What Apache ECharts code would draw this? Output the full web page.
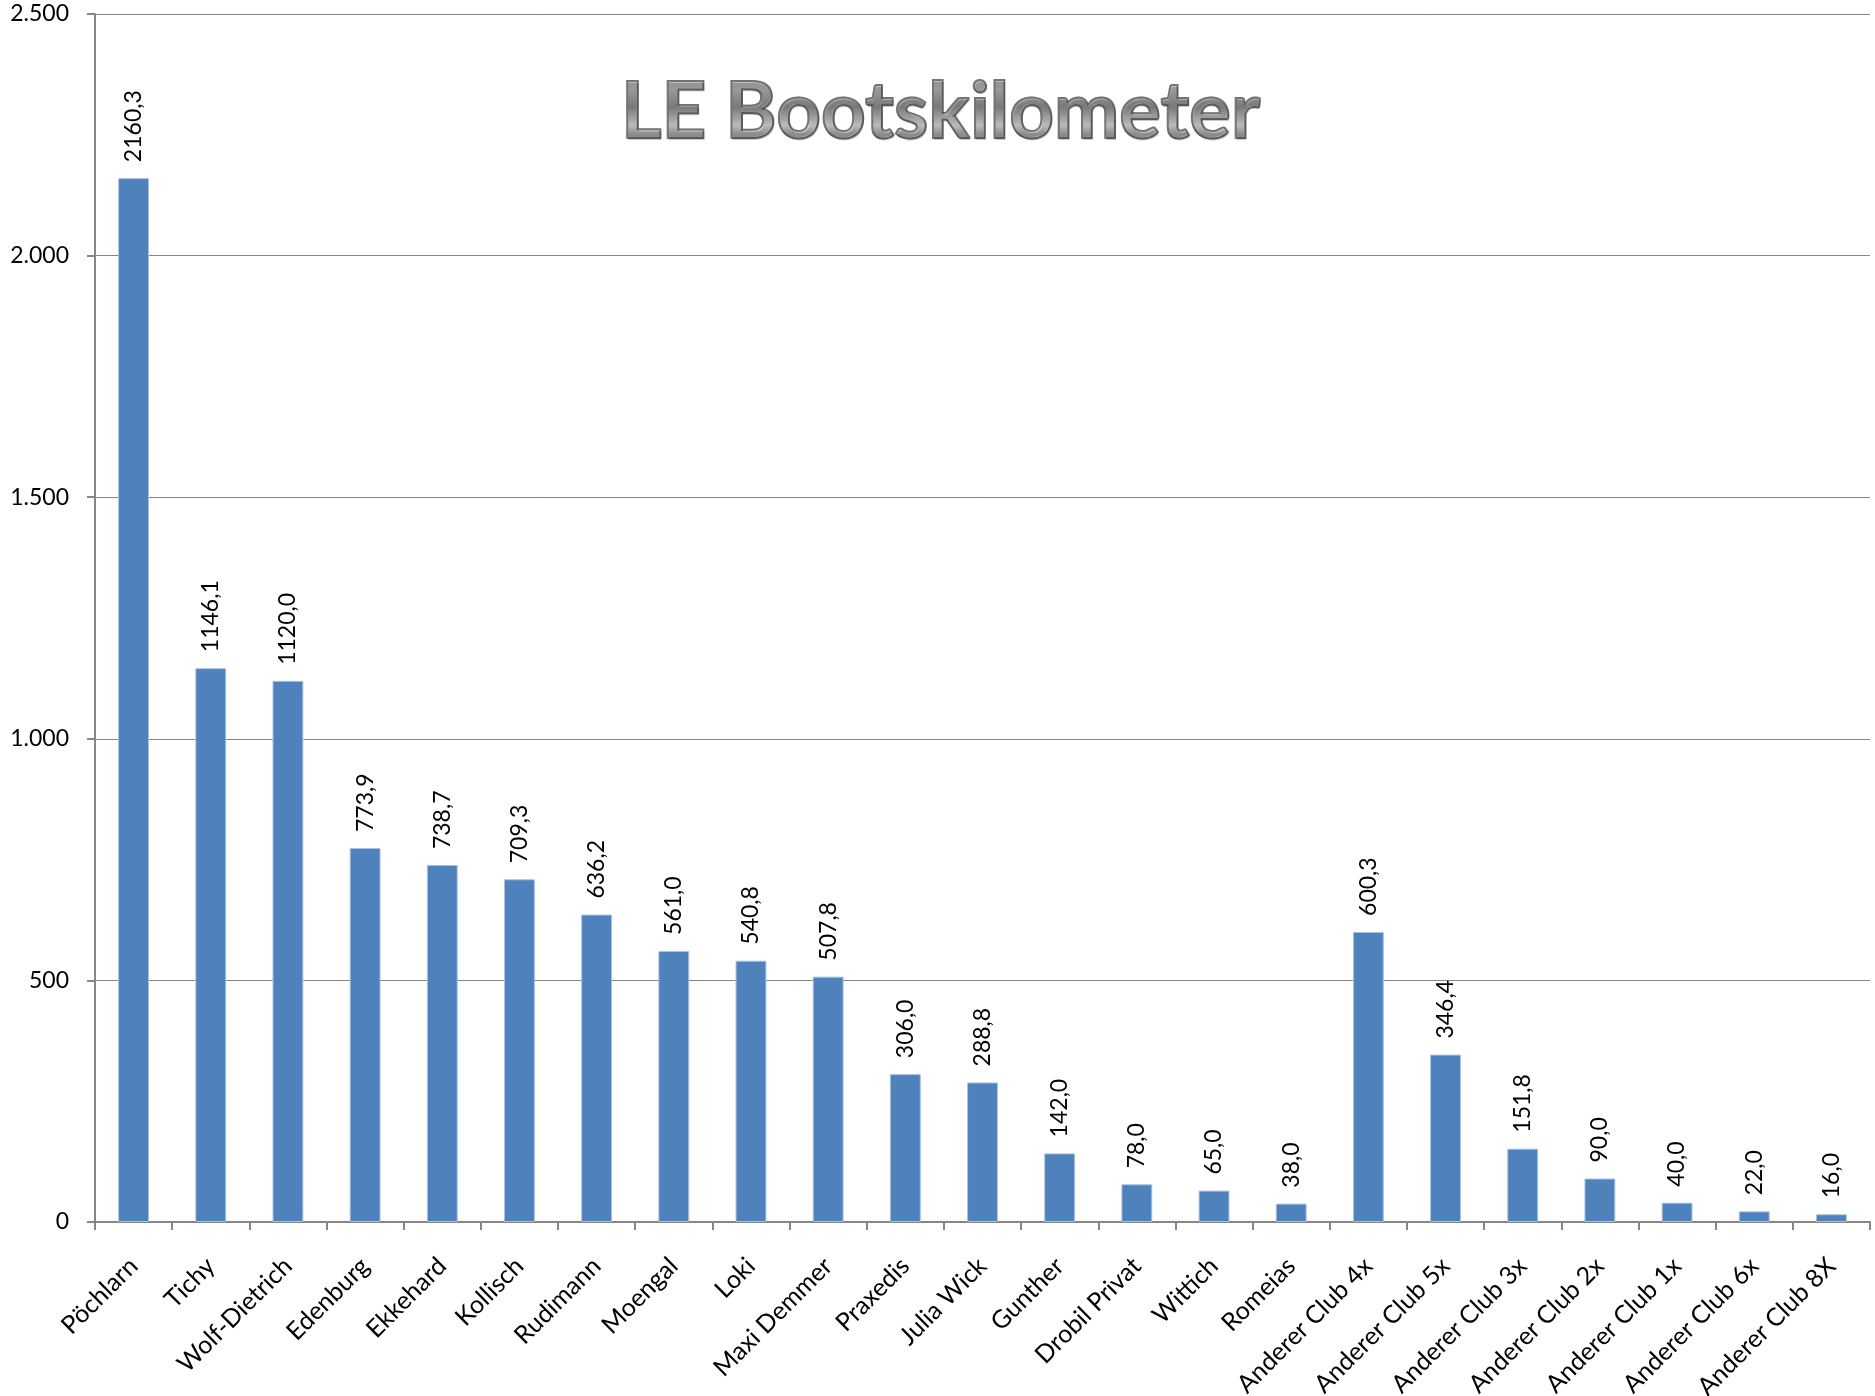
<!DOCTYPE html>
<html>
<head>
<meta charset="utf-8">
<script src="https://cdn.jsdelivr.net/npm/echarts@6/dist/echarts.min.js"></script>
<style>
html,body{margin:0;padding:0;background:#fff;}
#chart{width:1875px;height:1396px;background:#fff;}
</style>
</head>
<body>
<div id="chart"></div>
<script>
const titleText = "LE Bootskilometer";
const categories = ["Pöchlarn","Tichy","Wolf-Dietrich","Edenburg","Ekkehard","Kollisch","Rudimann","Moengal","Loki","Maxi Demmer","Praxedis","Julia Wick","Gunther","Drobil Privat","Wittich","Romeias","Anderer Club 4x","Anderer Club 5x","Anderer Club 3x","Anderer Club 2x","Anderer Club 1x","Anderer Club 6x","Anderer Club 8X"];
const kilometers = [2160.3,1146.1,1120.0,773.9,738.7,709.3,636.2,561.0,540.8,507.8,306.0,288.8,142.0,78.0,65.0,38.0,600.3,346.4,151.8,90.0,40.0,22.0,16.0];
const yMin = 0, yMax = 2500, yStep = 500;

const FONT = 'Lato';
const TITLE_FONT = 'bold 78px ' + FONT;
const TX = 620, TY = 73;

const chart = echarts.init(document.getElementById('chart'), null, {renderer:'canvas'});
chart.setOption({
  backgroundColor: 'transparent',
  animation: false,
  grid: {left: 95, right: 5, top: 14, bottom: 174, containLabel: false, outerBoundsMode: 'none'},
  graphic: [
    { // letter mask
      type: 'text', left: TX, top: TY, z: 100, silent: true,
      style: {text: titleText, font: TITLE_FONT, fill: '#000'}
    },
    { // metallic gradient painted only onto the letters
      type: 'rect', z: 101, silent: true,
      shape: {x: TX - 15, y: TY - 6, width: 680, height: 80},
      style: {
        blend: 'source-atop',
        fill: {type: 'linear', global: true, x: 0, y: 80, x2: 0, y2: 134, colorStops: [
          {offset: 0, color: '#bdbdbd'},
          {offset: 0.18, color: '#c4c4c4'},
          {offset: 0.5, color: '#9b9b9b'},
          {offset: 0.84, color: '#f0f0f0'},
          {offset: 1, color: '#b4b4b4'}
        ]}
      }
    },
    { // outline
      type: 'text', left: TX, top: TY, z: 102, silent: true,
      style: {text: titleText, font: TITLE_FONT, fill: 'none', stroke: '#747474', lineWidth: 2}
    },
    { // soft shadow behind
      type: 'text', left: TX + 2, top: TY + 3, z: 103, silent: true,
      style: {text: titleText, font: TITLE_FONT, fill: 'rgba(0,0,0,0.22)', blend: 'destination-over'}
    }
  ],
  xAxis: {
    type: 'category',
    data: categories,
    axisLine: {lineStyle: {color: '#868686', width: 2}},
    axisTick: {show: true, length: 8, lineStyle: {color: '#868686', width: 2}},
    axisLabel: {rotate: 45, interval: 0, margin: 40, color: '#000', fontFamily: FONT, fontSize: 25}
  },
  yAxis: {
    type: 'value',
    min: yMin, max: yMax, interval: yStep,
    axisLine: {show: true, lineStyle: {color: '#868686', width: 2}},
    axisTick: {show: true, length: 8, lineStyle: {color: '#868686', width: 2}},
    splitLine: {lineStyle: {color: '#868686', width: 1}},
    axisLabel: {
      margin: 26, color: '#000', fontFamily: FONT, fontSize: 23,
      formatter: v => v >= 1000 ? Math.floor(v/1000) + '.' + String(v%1000).padStart(3,'0') : String(v)
    }
  },
  series: [{
    type: 'bar',
    data: kilometers,
    barWidth: '40%',
    itemStyle: {color: '#4f81bd', borderColor: '#a9c1e0', borderWidth: 1},
    label: {
      show: true, position: 'top', rotate: 90, align: 'left', verticalAlign: 'middle',
      distance: 16, color: '#000', fontFamily: FONT, fontSize: 23,
      formatter: p => p.value.toFixed(1).replace('.', ',')
    }
  }]
});
</script>
</body>
</html>
